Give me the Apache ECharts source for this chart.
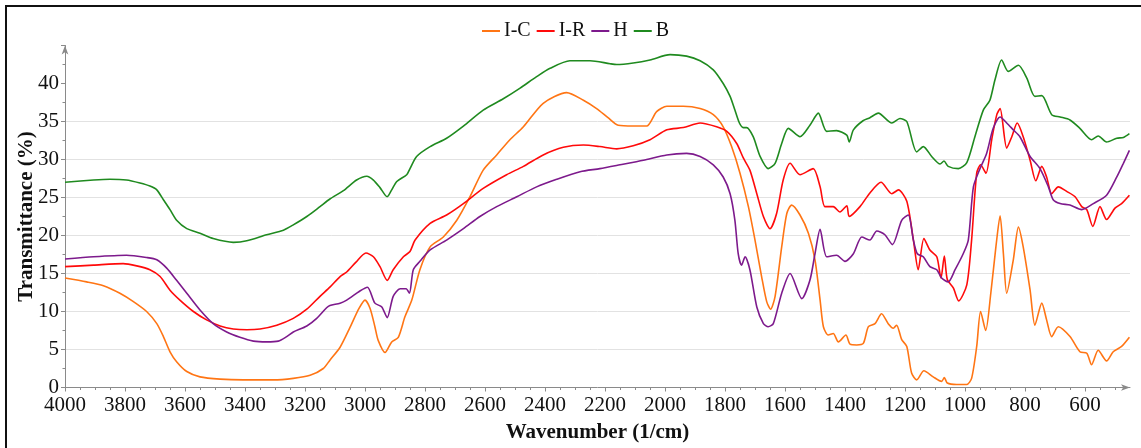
<!DOCTYPE html>
<html>
<head>
<meta charset="utf-8">
<title>FTIR spectra</title>
<script src="https://cdn.jsdelivr.net/npm/echarts@6/dist/echarts.min.js"></script>
<style>
  html, body { margin: 0; padding: 0; background: #fff; }
  #chart { width: 1141px; height: 448px; }
</style>
</head>
<body>
<div id="chart"></div>
<script>
// Spectra: [wavenumber (1/cm), transmittance (%)]
const seriesNames = ['I-C', 'I-R', 'H', 'B'];
const xTickLabels = [4000, 3800, 3600, 3400, 3200, 3000, 2800, 2600, 2400, 2200, 2000, 1800, 1600, 1400, 1200, 1000, 800, 600];
const yTickLabels = [0, 5, 10, 15, 20, 25, 30, 35, 40];

const icData = [
  [4000, 14.4], [3928, 13.9], [3872, 13.4], [3817, 12.4], [3772, 11.3], [3728, 10.0], [3694, 8.4],
  [3672, 6.7], [3650, 4.7], [3628, 3.4], [3594, 2.1], [3550, 1.4], [3483, 1.1], [3406, 1.0],
  [3306, 1.0], [3239, 1.2], [3183, 1.6], [3139, 2.5], [3117, 3.6], [3083, 5.3], [3050, 7.9],
  [3020, 10.4], [3000, 11.5], [2983, 10.4], [2967, 8.0], [2956, 6.2], [2933, 4.6], [2911, 6.0],
  [2889, 6.6], [2867, 9.3], [2844, 11.5], [2817, 15.5], [2783, 18.5], [2739, 19.8], [2694, 22.0],
  [2650, 25.1], [2606, 28.6], [2561, 30.6], [2517, 32.6], [2472, 34.3], [2406, 37.4], [2328, 38.8],
  [2272, 37.8], [2228, 36.7], [2190, 35.5], [2156, 34.5], [2106, 34.4], [2061, 34.4], [2028, 36.3],
  [1994, 37.0], [1939, 37.0], [1883, 36.7], [1839, 35.9], [1806, 34.3], [1778, 31.7], [1750, 28.2],
  [1722, 23.8], [1700, 19.4], [1678, 14.6], [1661, 11.3], [1648, 10.3], [1633, 12.0], [1611, 18.5],
  [1594, 22.9], [1578, 24.0], [1550, 22.7], [1522, 20.3], [1500, 16.8], [1483, 11.5], [1472, 8.0],
  [1456, 6.9], [1439, 7.1], [1422, 6.0], [1397, 6.9], [1383, 5.7], [1361, 5.6], [1339, 5.8],
  [1322, 8.0], [1300, 8.4], [1278, 9.7], [1256, 8.4], [1239, 7.8], [1228, 8.2], [1211, 6.3],
  [1194, 5.4], [1178, 1.9], [1161, 1.0], [1137, 2.2], [1106, 1.4], [1078, 0.8], [1069, 1.3],
  [1059, 0.6], [1028, 0.4], [994, 0.4], [978, 1.2], [961, 5.4], [948, 10.0], [931, 7.5],
  [914, 12.4], [897, 18.5], [883, 22.6], [872, 17.6], [861, 12.4], [839, 16.8], [822, 21.1],
  [806, 18.5], [783, 12.8], [767, 8.2], [744, 11.1], [728, 8.9], [711, 6.7], [689, 8.0],
  [650, 6.7], [617, 4.7], [594, 4.5], [578, 3.0], [556, 4.9], [528, 3.5], [506, 4.7],
  [478, 5.4], [452, 6.6]
];

const irData = [
  [4000, 15.9], [3905, 16.1], [3806, 16.3], [3761, 16.0], [3717, 15.5], [3683, 14.6], [3650, 12.8],
  [3617, 11.5], [3572, 10.0], [3528, 8.9], [3483, 8.1], [3439, 7.7], [3394, 7.6], [3350, 7.7],
  [3294, 8.2], [3239, 9.1], [3194, 10.3], [3150, 12.0], [3117, 13.2], [3083, 14.6], [3061, 15.2],
  [3030, 16.5], [2997, 17.7], [2972, 17.2], [2950, 15.9], [2926, 14.1], [2906, 15.5], [2872, 17.2],
  [2850, 17.9], [2833, 19.4], [2783, 21.6], [2728, 22.7], [2672, 24.2], [2606, 26.2], [2528, 28.0],
  [2472, 29.1], [2406, 30.6], [2339, 31.6], [2272, 31.9], [2217, 31.7], [2161, 31.4], [2106, 31.8],
  [2050, 32.6], [1994, 33.9], [1939, 34.2], [1883, 34.8], [1828, 34.3], [1794, 33.7], [1761, 32.1],
  [1739, 30.2], [1717, 28.6], [1694, 25.5], [1672, 22.5], [1650, 20.9], [1628, 22.9], [1606, 27.3],
  [1583, 29.5], [1550, 28.0], [1506, 28.8], [1483, 26.4], [1467, 23.8], [1439, 23.8], [1417, 23.1],
  [1394, 23.9], [1386, 22.5], [1350, 23.8], [1317, 25.6], [1280, 27.0], [1244, 25.5], [1222, 26.0],
  [1194, 24.5], [1172, 19.4], [1156, 15.5], [1137, 19.6], [1117, 18.1], [1094, 17.2], [1080, 14.4],
  [1069, 17.3], [1059, 14.2], [1039, 13.1], [1021, 11.4], [994, 13.5], [978, 19.4], [961, 28.2],
  [948, 29.3], [930, 28.2], [911, 32.6], [894, 35.9], [883, 36.7], [861, 31.5], [844, 33.0],
  [826, 34.8], [806, 33.0], [783, 29.9], [764, 27.2], [744, 29.1], [728, 27.7], [711, 25.5],
  [689, 26.4], [661, 25.8], [633, 25.1], [611, 23.8], [594, 23.4], [574, 21.2], [550, 23.8],
  [528, 22.1], [500, 23.6], [478, 24.2], [452, 25.3]
];

const hData = [
  [4000, 16.9], [3905, 17.2], [3795, 17.4], [3728, 17.1], [3694, 16.8], [3661, 15.7], [3628, 14.1],
  [3594, 12.4], [3550, 10.2], [3506, 8.4], [3461, 7.3], [3417, 6.6], [3372, 6.1], [3328, 6.0],
  [3289, 6.1], [3261, 6.7], [3239, 7.3], [3194, 8.1], [3161, 9.1], [3128, 10.5], [3117, 10.8],
  [3083, 11.1], [3061, 11.5], [3017, 12.7], [2992, 13.2], [2967, 11.1], [2944, 10.6], [2926, 9.2],
  [2906, 12.0], [2883, 13.0], [2863, 13.0], [2852, 12.4], [2839, 15.5], [2817, 16.6], [2783, 18.1],
  [2728, 19.4], [2672, 20.9], [2617, 22.5], [2561, 23.8], [2494, 25.1], [2428, 26.4], [2361, 27.4],
  [2283, 28.4], [2217, 28.8], [2150, 29.3], [2072, 29.9], [1994, 30.6], [1928, 30.8], [1883, 30.4],
  [1839, 29.3], [1806, 27.7], [1783, 25.5], [1767, 22.0], [1756, 17.6], [1745, 16.1], [1733, 17.2],
  [1717, 15.5], [1694, 10.6], [1672, 8.4], [1656, 8.0], [1639, 8.4], [1611, 12.4], [1583, 15.0],
  [1544, 11.7], [1517, 14.1], [1500, 17.6], [1483, 20.8], [1461, 17.2], [1428, 17.4], [1400, 16.6],
  [1372, 17.6], [1344, 19.8], [1317, 19.4], [1294, 20.6], [1267, 20.1], [1242, 18.8], [1211, 22.0],
  [1189, 22.7], [1172, 19.4], [1159, 17.6], [1139, 17.2], [1117, 15.9], [1094, 15.5], [1078, 14.4],
  [1056, 13.9], [1033, 15.5], [1006, 17.6], [989, 19.4], [972, 26.4], [950, 28.8], [928, 30.8],
  [906, 34.1], [883, 35.6], [861, 34.8], [839, 33.9], [817, 33.0], [783, 30.4], [750, 28.8],
  [722, 26.4], [706, 24.7], [683, 24.2], [650, 24.0], [611, 23.4], [572, 24.2], [528, 25.3],
  [494, 27.7], [472, 29.5], [452, 31.2]
];

const bData = [
  [4000, 27.0], [3905, 27.3], [3850, 27.4], [3795, 27.3], [3750, 26.9], [3717, 26.5], [3694, 26.0],
  [3672, 24.7], [3650, 23.4], [3628, 22.0], [3594, 20.9], [3550, 20.3], [3506, 19.6], [3439, 19.1],
  [3394, 19.3], [3328, 20.1], [3272, 20.7], [3239, 21.4], [3194, 22.5], [3150, 23.8], [3117, 24.8],
  [3072, 25.9], [3028, 27.3], [2994, 27.8], [2972, 27.3], [2950, 26.3], [2926, 25.1], [2911, 26.0],
  [2894, 27.1], [2861, 28.0], [2850, 28.8], [2828, 30.4], [2783, 31.7], [2728, 32.8], [2672, 34.4],
  [2606, 36.5], [2539, 38.0], [2483, 39.4], [2428, 40.9], [2383, 42.0], [2317, 43.0], [2250, 43.0],
  [2183, 42.6], [2161, 42.5], [2106, 42.7], [2050, 43.1], [1983, 43.8], [1928, 43.6], [1883, 43.0],
  [1839, 41.8], [1806, 40.0], [1783, 38.3], [1767, 36.5], [1752, 34.8], [1739, 34.2], [1728, 34.2],
  [1706, 33.0], [1683, 30.4], [1656, 28.8], [1633, 29.5], [1611, 32.1], [1589, 34.1], [1550, 33.0],
  [1517, 34.5], [1489, 36.1], [1461, 33.7], [1428, 33.8], [1394, 33.2], [1386, 32.3], [1372, 33.9],
  [1340, 35.1], [1317, 35.5], [1289, 36.1], [1244, 34.8], [1217, 35.4], [1194, 35.0], [1161, 31.0],
  [1139, 31.7], [1111, 30.4], [1083, 29.4], [1070, 29.8], [1056, 29.1], [1022, 28.8], [994, 29.6],
  [967, 33.0], [939, 36.5], [917, 37.8], [900, 40.5], [878, 43.1], [856, 41.6], [822, 42.4],
  [794, 40.7], [767, 38.3], [744, 38.4], [711, 35.9], [683, 35.6], [650, 35.2], [617, 34.1],
  [578, 32.6], [556, 33.1], [528, 32.3], [494, 32.8], [472, 32.9], [452, 33.4]
];

const seriesData = [icData, irData, hData, bData];
const seriesColors = ['#ff7514', '#ff0a0a', '#7d1a8c', '#1f8a1f'];

const FONT = "'Liberation Serif', 'Times New Roman', serif";
const X_MIN = 450, X_MAX = 4000;
const Y_MAX = 45;

// unlabeled minor ticks every 50 cm-1 along the wavenumber axis
const minorXTicks = [];
for (let v = 500; v < X_MAX; v += 50) {
  if (xTickLabels.indexOf(v) < 0) minorXTicks.push(v);
}

// horizontal guide lines only from 5 to 35
const splitColors = [];
for (let v = 0; v <= Y_MAX; v += 5) {
  splitColors.push(v > 0 && v <= 35 ? '#e2e2e2' : 'rgba(0,0,0,0)');
}

const axisGray = '#8a8a8a';

const chart = echarts.init(document.getElementById('chart'), null, { renderer: 'canvas' });

chart.setOption({
  animation: false,
  backgroundColor: '#fff',
  graphic: [{
    type: 'rect',
    silent: true,
    z: -10,
    shape: { x: 6, y: 6, width: 1300, height: 600 },
    style: { fill: 'none', stroke: '#111', lineWidth: 2 }
  }],
  legend: {
    data: seriesNames,
    left: 477,
    top: 16,
    icon: 'rect',
    itemWidth: 18,
    itemHeight: 2,
    itemGap: 6,
    textStyle: { fontFamily: FONT, fontSize: 20, color: '#111', padding: [0, 0, 0, -1] }
  },
  grid: {
    left: 65,
    right: 11,
    top: 45.5,
    bottom: 60.5,
    containLabel: false,
    outerBoundsMode: 'none'
  },
  xAxis: [{
    type: 'value',
    inverse: true,
    min: X_MIN,
    max: X_MAX,
    name: 'Wavenumber (1/cm)',
    nameLocation: 'middle',
    nameGap: 35,
    nameMoveOverlap: false,
    nameTextStyle: { fontFamily: FONT, fontSize: 21, fontWeight: 'bold', color: '#111' },
    axisLine: {
      show: true,
      symbol: ['none', 'arrow'],
      symbolSize: [5, 9],
      lineStyle: { color: axisGray, width: 1 }
    },
    axisTick: { show: true, length: 4, customValues: xTickLabels, lineStyle: { color: axisGray } },
    axisLabel: {
      customValues: xTickLabels,
      margin: 7,
      fontFamily: FONT,
      fontSize: 21,
      color: '#111',
      formatter: function (v) { return String(v); }
    },
    splitLine: { show: false }
  }, {
    type: 'value',
    inverse: true,
    min: X_MIN,
    max: X_MAX,
    position: 'bottom',
    axisLine: { show: false },
    axisTick: { show: true, length: 2.5, customValues: minorXTicks, lineStyle: { color: axisGray } },
    axisLabel: { show: false },
    splitLine: { show: false }
  }],
  yAxis: {
    type: 'value',
    min: 0,
    max: Y_MAX,
    interval: 5,
    name: 'Transmittance (%)',
    nameLocation: 'middle',
    nameGap: 28,
    nameMoveOverlap: false,
    nameRotate: 90,
    nameTextStyle: { fontFamily: FONT, fontSize: 21, fontWeight: 'bold', color: '#111' },
    axisLine: {
      show: true,
      symbol: ['none', 'arrow'],
      symbolSize: [5, 9],
      lineStyle: { color: axisGray, width: 1 }
    },
    axisTick: { show: true, length: 4, lineStyle: { color: axisGray } },
    minorTick: { show: true, splitNumber: 2, length: 2.5, lineStyle: { color: axisGray } },
    axisLabel: {
      margin: 6,
      fontFamily: FONT,
      fontSize: 21,
      color: '#111',
      formatter: function (v) { return yTickLabels.indexOf(v) >= 0 ? String(v) : ''; }
    },
    splitLine: { show: true, lineStyle: { color: splitColors, width: 1 } }
  },
  series: seriesNames.map(function (name, i) {
    return {
      name: name,
      type: 'line',
      xAxisIndex: 0,
      data: seriesData[i],
      symbol: 'none',
      smooth: 0.25,
      color: seriesColors[i],
      lineStyle: { color: seriesColors[i], width: 1.6 }
    };
  })
});
</script>
</body>
</html>
